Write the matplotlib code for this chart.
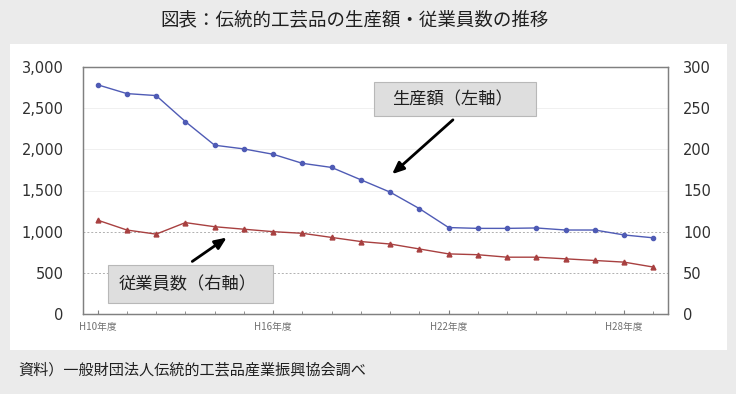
import matplotlib
matplotlib.use("Agg")
import matplotlib.pyplot as plt
from matplotlib.patches import Rectangle

plt.rcParams['font.family'] = ['Noto Sans CJK JP', 'DejaVu Sans']

# 年度（H10〜H29）
nendo = ["H%d年度" % n for n in range(10, 30)]
# 生産額（億円、左軸）
seisan = [2784, 2677, 2653, 2337, 2050, 2005, 1940, 1830, 1780, 1630,
          1480, 1280, 1050, 1040, 1040, 1045, 1020, 1020, 960, 925]
# 従業員数（百人、右軸）
jugyoin = [114, 102, 97, 111, 106, 103, 100, 98, 93, 88,
           85, 79, 73, 72, 69, 69, 67, 65, 63, 57]

W, H = 736, 394


def px(x, y):
    # ピクセル座標 -> figure座標
    return x / W, 1 - y / H


fig = plt.figure(figsize=(W / 100, H / 100), dpi=100)
fig.patch.set_facecolor("#ebebeb")
x0, y0 = px(10, 350)
x1, y1 = px(727, 44)
fig.add_artist(Rectangle((x0, y0), x1 - x0, y1 - y0, transform=fig.transFigure,
                         facecolor="white", edgecolor="none", zorder=0))

l, b = px(83, 314)
r, t = px(668, 67)
ax = fig.add_axes([l, b, r - l, t - b])
ax2 = ax.twinx()

x = list(range(len(nendo)))
ax.plot(x, seisan, color="#4f5bb5", lw=1.0, marker="o", ms=3, zorder=3)
ax2.plot(x, jugyoin, color="#a84040", lw=1.0, marker="^", ms=3.5, zorder=3)

ax.set_xlim(-0.5, len(nendo) - 0.5)
ax.set_ylim(0, 3000)
ax2.set_ylim(0, 300)
ax.set_yticks(range(0, 3001, 500))
ax2.set_yticks(range(0, 301, 50))
ax.set_yticklabels(["{:,}".format(v) for v in range(0, 3001, 500)])
ax.set_xticks(x[::6])
ax.set_xticklabels(nendo[::6], fontsize=7, color="#707070")
ax.set_xticks(x, minor=True)

for v in range(500, 3001, 500):
    if v in (500, 1000):
        ax.axhline(v, color="#b0b0b0", lw=0.7, ls=(0, (2, 2)), zorder=1)
    else:
        ax.axhline(v, color="#f0f0f0", lw=0.7, zorder=1)

for a in (ax, ax2):
    for s in a.spines.values():
        s.set_color("#808080")
        s.set_linewidth(0.9)
ax.tick_params(axis="y", length=0, pad=14, labelsize=10.5, labelcolor="#303030")
ax2.tick_params(axis="y", length=0, pad=11, labelsize=10.5, labelcolor="#303030")
ax.tick_params(axis="x", which="both", direction="in", length=3, color="#808080", pad=6)
ax.tick_params(axis="x", which="minor", length=2)
for lab in ax.get_yticklabels() + ax2.get_yticklabels():
    lab.set_family(["DejaVu Sans"])

# 注記ボックス
for (bx0, by0, bx1, by1, txt) in [(374, 82, 536, 116, "生産額（左軸）"),
                                   (108, 265, 273, 303, "従業員数（右軸）")]:
    fx0, fy0 = px(bx0, by1)
    fx1, fy1 = px(bx1, by0)
    fig.add_artist(Rectangle((fx0, fy0), fx1 - fx0, fy1 - fy0, transform=fig.transFigure,
                             facecolor="#dedede", edgecolor="#b8b8b8", lw=0.8, zorder=5))
    fig.text((fx0 + fx1) / 2 - 3 / W, (fy0 + fy1) / 2, txt, ha="center", va="center",
             fontsize=12.4, color="#202020", zorder=6)

ax.annotate("", xy=px(390, 176), xytext=px(455, 118), xycoords="figure fraction",
            textcoords="figure fraction",
            arrowprops=dict(arrowstyle="-|>,head_length=0.7,head_width=0.3", color="black", lw=2))
ax.annotate("", xy=px(229, 236), xytext=px(190, 263), xycoords="figure fraction",
            textcoords="figure fraction",
            arrowprops=dict(arrowstyle="-|>,head_length=0.7,head_width=0.3", color="black", lw=2))

fig.text(355 / W, 1 - 20 / H, "図表：伝統的工芸品の生産額・従業員数の推移", ha="center", va="center",
         fontsize=13.3, color="#202020")
fig.text(18 / W, 1 - 370 / H, "資料）一般財団法人伝統的工芸品産業振興協会調べ", ha="left", va="center",
         fontsize=10.9, color="#202020")

fig.savefig("out.png", dpi=100, facecolor=fig.get_facecolor())
